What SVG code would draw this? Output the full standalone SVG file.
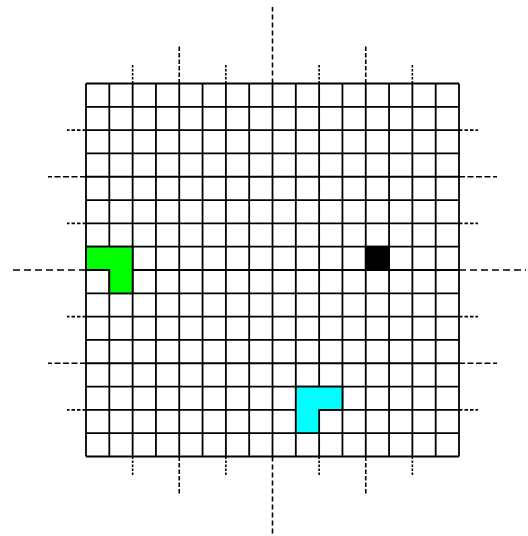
<svg xmlns="http://www.w3.org/2000/svg" width="528" height="536" viewBox="0 0 528 536">
<style>
.grid{fill:none;stroke:#000;stroke-width:1.8}
.tick{fill:none;stroke:#000;stroke-width:1.6}
.lh{stroke-dasharray:7 4}
.lv{stroke-dasharray:5 3}
.mh{stroke-dasharray:6 2.5}
.mv{stroke-dasharray:4.5 2}
.sh{stroke-dasharray:3.5 2}
.sv{stroke-dasharray:2.5 1.5}
.shape{stroke:#000;stroke-width:1.8}
</style>
<rect width="528" height="536" fill="#fff"/>
<g id="grid">
<path class="grid" d="M86 83.5V456.5M109.31 83.5V456.5M132.63 83.5V456.5M155.94 83.5V456.5M179.25 83.5V456.5M202.56 83.5V456.5M225.88 83.5V456.5M249.19 83.5V456.5M272.5 83.5V456.5M295.81 83.5V456.5M319.13 83.5V456.5M342.44 83.5V456.5M365.75 83.5V456.5M389.06 83.5V456.5M412.38 83.5V456.5M435.69 83.5V456.5M459 83.5V456.5"/>
<path class="grid" d="M86 83.5H459M86 106.81H459M86 130.13H459M86 153.44H459M86 176.75H459M86 200.06H459M86 223.38H459M86 246.69H459M86 270H459M86 293.31H459M86 316.63H459M86 339.94H459M86 363.25H459M86 386.56H459M86 409.88H459M86 433.19H459M86 456.5H459"/>
</g>
<g id="ticks">
<path class="tick sv" d="M132.63 83.5V65M225.88 83.5V65M319.13 83.5V65M412.38 83.5V65"/>
<path class="tick mv" d="M179.25 83.5V45M365.75 83.5V45"/>
<path class="tick lv" d="M272.5 83.5V7"/>
<path class="tick sv" d="M132.63 456.5V475M225.88 456.5V475M319.13 456.5V475M412.38 456.5V475"/>
<path class="tick mv" d="M179.25 456.5V494.5M365.75 456.5V494.5"/>
<path class="tick lv" d="M272.5 456.5V534"/>
<path class="tick sh" d="M86 130.13H67M86 223.38H67M86 316.63H67M86 409.88H67"/>
<path class="tick mh" d="M86 176.75H48M86 363.25H48"/>
<path class="tick lh" d="M86 270H9"/>
<path class="tick sh" d="M459 130.13H478M459 223.38H478M459 316.63H478M459 409.88H478"/>
<path class="tick mh" d="M459 176.75H497M459 363.25H497"/>
<path class="tick lh" d="M459 270H526"/>
</g>
<g id="green-piece">
<polygon class="shape" fill="#00ff00" points="86,246.69 132.63,246.69 132.63,293.31 109.31,293.31 109.31,270 86,270"/>
</g>
<g id="black-cell">
<rect class="shape" fill="#000" x="365.75" y="246.69" width="23.31" height="23.31"/>
</g>
<g id="cyan-piece">
<polygon class="shape" fill="#00ffff" points="295.81,386.56 342.44,386.56 342.44,409.88 319.13,409.88 319.13,433.19 295.81,433.19"/>
</g>
</svg>
